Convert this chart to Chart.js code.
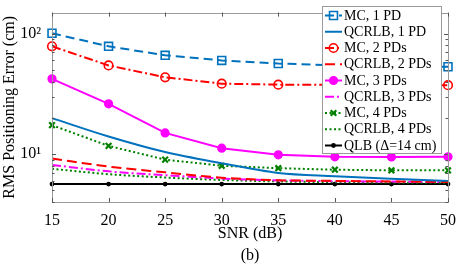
<!DOCTYPE html>
<html><head><meta charset="utf-8">
<script src="https://cdn.jsdelivr.net/npm/chart.js@4/dist/chart.umd.min.js"></script>
<style>html,body{margin:0;padding:0;background:#fff;}canvas{display:block;}</style>
</head><body>
<canvas id="c" width="457" height="267"></canvas>
<script>
const snr = [15, 20, 25, 30, 35, 40, 45, 50];
const mc1 = [101, 78.7, 66.2, 60.1, 56.6, 54.8, 53.9, 53.2];
const qc1 = [19.9, 14.0, 10.4, 8.4, 6.97, 6.56, 6.25, 5.99];
const mc2 = [78.7, 54.6, 43.5, 38.5, 37.8, 37.6, 37.5, 37.4];
const qc2 = [9.18, 7.88, 7.06, 6.37, 6.07, 5.99, 5.93, 5.87];
const mc3 = [42.2, 26.2, 15.0, 11.2, 9.87, 9.5, 9.47, 9.5];
const qc3 = [8.13, 7.19, 6.68, 6.27, 6.05, 5.96, 5.91, 5.86];
const mc4 = [17.4, 11.7, 9.0, 8.0, 7.64, 7.42, 7.33, 7.33];
const qc4 = [7.55, 6.81, 6.39, 6.10, 5.93, 5.85, 5.80, 5.78];
const qlb = [5.64, 5.64, 5.64, 5.64, 5.64, 5.64, 5.64, 5.64];
const seriesLabels = ['MC, 1 PD', 'QCRLB, 1 PD', 'MC, 2 PDs', 'QCRLB, 2 PDs', 'MC, 3 PDs', 'QCRLB, 3 PDs', 'MC, 4 PDs', 'QCRLB, 4 PDs', 'QLB (\u0394=14 cm)'];
const yTickLabels = {10: '10\u00B9', 100: '10\u00B2'};
const xTitle = ['SNR (dB)', '(b)'];
const yTitle = 'RMS Positioning Error (cm)';

const BLUE = '#0072BD', RED = '#FF0000', MAG = '#FF00FF', GRN = '#008000', BLK = '#000000';
const SERIF = "'Liberation Serif', 'Times New Roman', serif";

function pts(arr) { return snr.map((x, i) => ({x: x, y: arr[i]})); }

function ds(label, data, color, dash, style, radius, fill, smooth) {
  return {
    label: label, data: pts(data), borderColor: color, backgroundColor: fill,
    borderWidth: 2, borderDash: dash, pointStyle: style || 'circle',
    pointRadius: radius || 0, pointBorderWidth: 1.6, pointBorderColor: color,
    pointBackgroundColor: fill, tension: 0,
    cubicInterpolationMode: smooth ? 'monotone' : 'default', clip: false
  };
}

const datasets = [
  ds(seriesLabels[0], mc1, BLUE, [9, 5], 'rect', 5.6, 'rgba(255,255,255,0)'),
  ds(seriesLabels[1], qc1, BLUE, [], false, 0, BLUE, true),
  ds(seriesLabels[2], mc2, RED, [9, 3, 2, 3], 'circle', 4.3, 'rgba(255,255,255,0)'),
  ds(seriesLabels[3], qc2, RED, [10, 5], false, 0, RED, true),
  ds(seriesLabels[4], mc3, MAG, [], 'circle', 3.8, MAG),
  ds(seriesLabels[5], qc3, MAG, [9, 3, 2, 3], false, 0, MAG, true),
  ds(seriesLabels[6], mc4, GRN, [2, 2.5], 'crossRot', 4, GRN),
  ds(seriesLabels[7], qc4, GRN, [2, 2.5], false, 0, GRN, true),
  ds(seriesLabels[8], qlb, BLK, [], 'circle', 1.6, BLK)
];
datasets[6].pointBorderWidth = 2.2;

const framePlugin = {
  id: 'frame',
  afterDatasetsDraw(chart) {
    const ctx = chart.ctx, a = chart.chartArea;
    const xs = chart.scales.x, ys = chart.scales.y;
    ctx.save();
    ctx.strokeStyle = '#9a9a9a'; ctx.lineWidth = 1; ctx.setLineDash([]);
    ctx.strokeRect(Math.round(a.left) + 0.5, Math.round(a.top) + 0.5, Math.round(a.right - a.left), Math.round(a.bottom - a.top));
    ctx.strokeStyle = '#555';
    ctx.beginPath();
    for (let v = 15; v <= 50; v += 5) {
      const px = Math.round(xs.getPixelForValue(v)) + 0.5;
      ctx.moveTo(px, a.bottom); ctx.lineTo(px, a.bottom - 4);
      ctx.moveTo(px, a.top); ctx.lineTo(px, a.top + 4);
    }
    for (let d = 1; d <= 100; d *= 10) {
      for (let m = 1; m <= 9; m++) {
        const v = m * d;
        if (v < 4 || v > 150) continue;
        const py = Math.round(ys.getPixelForValue(v)) + 0.5;
        const len = m === 1 ? 4 : 2.5;
        ctx.moveTo(a.left, py); ctx.lineTo(a.left + len, py);
        ctx.moveTo(a.right, py); ctx.lineTo(a.right - len, py);
      }
    }
    ctx.stroke();

    // legend
    const lx = 322, ly = 6, lw = 119, lh = 147, rowH = 16.25, firstY = 15;
    ctx.fillStyle = '#fff';
    ctx.fillRect(lx, ly, lw, lh);
    ctx.strokeStyle = '#9a9a9a'; ctx.lineWidth = 1;
    ctx.strokeRect(lx + 0.5, ly + 0.5, lw, lh);
    ctx.font = '14px ' + SERIF;
    ctx.textBaseline = 'middle'; ctx.textAlign = 'left';
    chart.data.datasets.forEach((d, i) => {
      const y = ly + firstY - 6 + i * rowH + 0.5;
      ctx.save();
      ctx.strokeStyle = d.borderColor; ctx.lineWidth = d.borderWidth;
      ctx.setLineDash(d.borderDash || []);
      ctx.beginPath(); ctx.moveTo(lx + 3, y); ctx.lineTo(lx + 20, y); ctx.stroke();
      ctx.setLineDash([]);
      if (d.pointRadius > 0) {
        ctx.strokeStyle = d.pointBorderColor; ctx.fillStyle = d.pointBackgroundColor;
        ctx.lineWidth = d.pointBorderWidth;
        Chart.helpers.drawPoint(ctx, {pointStyle: d.pointStyle, radius: d.pointRadius, rotation: 0, borderWidth: d.pointBorderWidth}, lx + 11.5, y);
      }
      ctx.restore();
      ctx.fillStyle = '#000';
      ctx.fillText(d.label, lx + 22, y + 0.5);
    });
    ctx.restore();
  }
};

new Chart(document.getElementById('c'), {
  type: 'line',
  data: {datasets: datasets},
  options: {
    responsive: false, animation: false, devicePixelRatio: 1,
    layout: {padding: {top: 4, right: 0, left: 0, bottom: 0}},
    plugins: {legend: {display: false}, tooltip: {enabled: false}},
    scales: {
      x: {
        type: 'linear', min: 15, max: 50,
        grid: {display: false}, border: {display: false},
        ticks: {stepSize: 5, color: '#000', font: {family: SERIF, size: 16}, padding: 1, maxRotation: 0},
        title: {display: true, text: xTitle, color: '#000', font: {family: SERIF, size: 16, lineHeight: 1.4}, padding: {top: 0, bottom: 0}},
        afterFit(s) { s.height = 65; }
      },
      y: {
        type: 'logarithmic', min: 4, max: 150,
        grid: {display: false}, border: {display: false},
        afterBuildTicks(s) { s.ticks = [{value: 10, major: true}, {value: 100, major: true}]; },
        ticks: {color: '#000', font: {family: SERIF, size: 16}, padding: 3, callback: (v) => yTickLabels[v] || ''},
        title: {display: true, text: yTitle, color: '#000', font: {family: SERIF, size: 16}, padding: {top: 0, bottom: 0}},
        afterFit(s) { s.width = 52; }
      }
    }
  },
  plugins: [framePlugin]
});
</script>
</body></html>
